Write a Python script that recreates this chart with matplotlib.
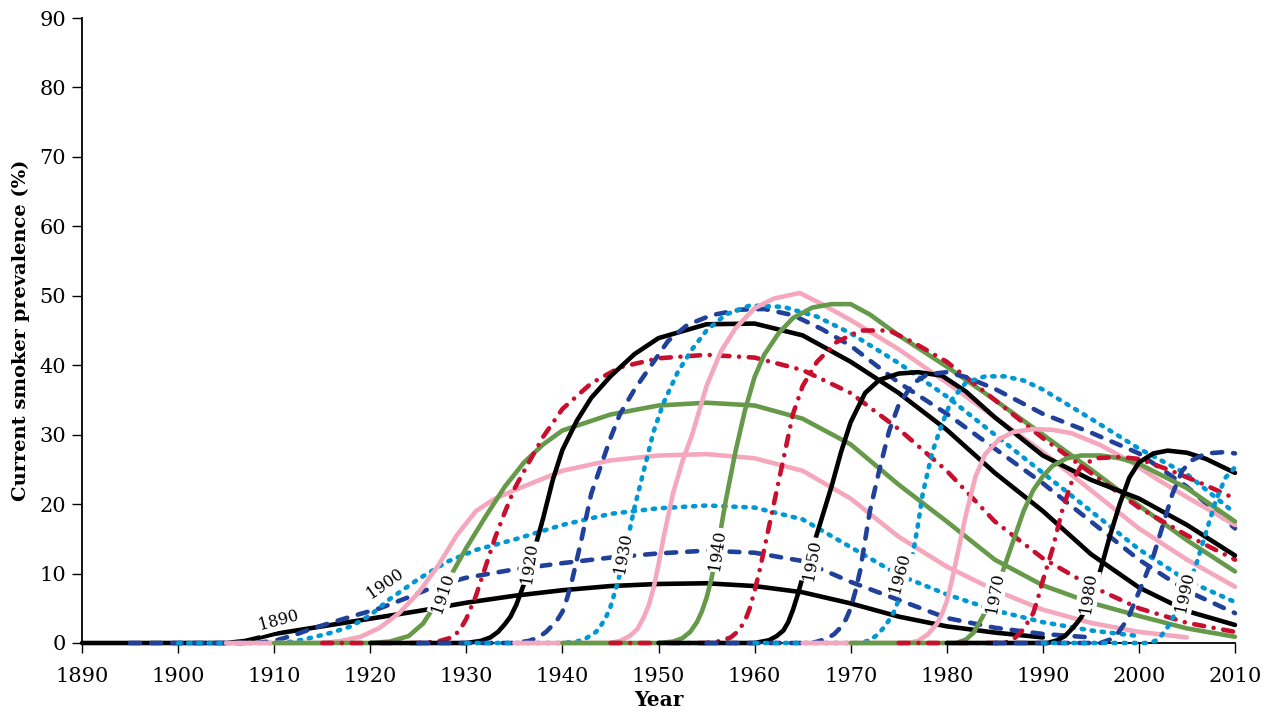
import matplotlib
matplotlib.use("Agg")
import matplotlib.pyplot as plt

# ---------------- data (birth cohorts: calendar year, current smoker prevalence %) ----------------
c1890_years = [1890, 1905, 1907, 1908.5, 1910, 1915, 1920, 1925, 1930, 1935, 1940, 1945, 1950, 1955, 1960, 1965, 1970, 1975, 1980, 1985, 1990]
c1890_vals = [0, 0, 0.3, 0.8, 1.3, 2.4, 3.5, 4.6, 5.8, 6.8, 7.6, 8.2, 8.5, 8.6, 8.2, 7.3, 5.7, 3.8, 2.4, 1.5, 0.8]

c1895_years = [1895, 1908, 1910, 1912, 1914, 1918, 1921, 1924, 1927, 1930, 1935, 1940, 1945, 1950, 1955, 1960, 1965, 1970, 1975, 1980, 1985, 1990, 1995]
c1895_vals = [0, 0, 0.3, 1.1, 2.1, 3.8, 5.0, 6.6, 8.3, 9.4, 10.6, 11.5, 12.3, 12.9, 13.3, 13.0, 11.8, 8.8, 6.2, 3.6, 2.2, 1.3, 0.8]

c1900_years = [1900, 1910, 1912, 1914, 1916, 1918, 1920, 1922, 1925, 1928, 1931, 1935, 1940, 1945, 1950, 1955, 1960, 1965, 1970, 1975, 1980, 1985, 1990, 1995, 2000]
c1900_vals = [0, 0, 0.2, 0.8, 1.5, 2.4, 4.0, 6.3, 9.2, 11.7, 13.4, 14.9, 17.0, 18.6, 19.4, 19.8, 19.5, 17.8, 13.8, 9.8, 7.0, 4.7, 3.0, 1.8, 1.0]

c1905_years = [1905, 1915, 1917, 1919, 1921, 1923, 1925, 1927, 1929, 1931, 1933, 1935, 1940, 1945, 1950, 1955, 1960, 1965, 1970, 1975, 1980, 1985, 1990, 1995, 2000, 2005]
c1905_vals = [0, 0, 0.3, 0.9, 2.2, 4.3, 7.2, 11.0, 15.5, 19.0, 20.8, 22.0, 24.8, 26.3, 27.0, 27.2, 26.6, 24.8, 20.8, 15.3, 11.0, 7.6, 4.8, 2.9, 1.6, 0.8]

c1910_years = [1910, 1920, 1922, 1924, 1925.5, 1927, 1928.5, 1930, 1932, 1934, 1936, 1938, 1940, 1945, 1950, 1955, 1960, 1965, 1970, 1975, 1980, 1985, 1990, 1995, 2000, 2005, 2010]
c1910_vals = [0, 0, 0.2, 1.0, 2.8, 6.0, 10.0, 13.7, 18.2, 22.5, 26.0, 28.6, 30.6, 32.9, 34.2, 34.6, 34.2, 32.3, 28.6, 22.8, 17.5, 12.0, 8.3, 5.8, 3.9, 2.1, 0.9]

c1915_years = [1915, 1925, 1927, 1928.5, 1929.3, 1930, 1931, 1932, 1933, 1934, 1935, 1936.5, 1938, 1940, 1943, 1946, 1950, 1955, 1960, 1965, 1970, 1975, 1980, 1985, 1990, 1995, 2000, 2005, 2010]
c1915_vals = [0, 0, 0.2, 0.8, 1.8, 3.5, 6.8, 11.0, 15.2, 18.8, 22.2, 26.0, 29.7, 33.7, 37.4, 39.7, 41.0, 41.5, 41.1, 39.3, 36.0, 30.8, 24.8, 17.5, 12.2, 8.2, 5.0, 2.9, 1.6]

c1920_years = [1920, 1930, 1931.5, 1932.5, 1933.3, 1934, 1934.6, 1935.2, 1936, 1937, 1938, 1939, 1940, 1941.5, 1943, 1945, 1947.5, 1950, 1955, 1960, 1965, 1970, 1975, 1980, 1985, 1990, 1995, 2000, 2005, 2010]
c1920_vals = [0, 0, 0.3, 0.8, 1.6, 2.7, 3.8, 5.5, 8.5, 13.0, 18.0, 23.5, 27.8, 32.0, 35.3, 38.4, 41.6, 43.9, 45.9, 46.0, 44.3, 40.5, 36.0, 30.7, 24.5, 19.0, 12.8, 8.0, 4.6, 2.6]

c1925_years = [1925, 1935, 1936.5, 1937.5, 1938.3, 1939, 1939.5, 1940, 1940.5, 1941, 1942, 1943, 1944, 1945, 1946, 1947.5, 1949, 1951, 1953, 1955.5, 1958.5, 1961, 1964, 1967, 1970, 1975, 1980, 1985, 1990, 1995, 2000, 2005, 2010]
c1925_vals = [0, 0, 0.3, 0.8, 1.6, 2.6, 3.4, 4.5, 6.5, 9.0, 15.0, 21.5, 25.5, 29.5, 33.0, 36.5, 39.5, 43.5, 45.8, 47.2, 48.0, 48.1, 47.2, 45.2, 42.8, 37.5, 33.0, 28.0, 23.0, 17.5, 12.0, 7.5, 4.3]

c1930_years = [1930, 1940, 1941.5, 1942.5, 1943.5, 1944, 1944.5, 1945, 1945.5, 1946, 1946.5, 1947.5, 1948.5, 1949.5, 1950.5, 1952, 1953.5, 1955, 1957, 1959.5, 1963, 1966.5, 1970, 1975, 1980, 1985, 1990, 1995, 2000, 2005, 2010]
c1930_vals = [0, 0, 0.2, 0.7, 1.6, 2.5, 3.6, 5.2, 7.5, 10.0, 13.0, 19.5, 25.0, 30.5, 34.5, 39.0, 42.3, 45.0, 47.3, 48.6, 48.4, 47.0, 44.6, 40.3, 35.5, 30.0, 24.5, 19.0, 13.5, 9.0, 5.9]

c1935_years = [1935, 1945, 1946, 1947, 1947.8, 1948.5, 1949, 1949.5, 1950, 1950.5, 1951.5, 1952.5, 1953.5, 1955, 1956.5, 1958, 1960, 1962, 1964.7, 1967, 1970, 1975, 1980, 1985, 1990, 1995, 2000, 2005, 2010]
c1935_vals = [0, 0, 0.3, 1.0, 2.0, 3.8, 5.5, 8.0, 11.3, 15.0, 21.5, 26.2, 30.0, 37.0, 42.0, 45.3, 48.2, 49.6, 50.4, 48.8, 46.5, 42.3, 37.5, 32.5, 27.5, 22.0, 16.5, 12.0, 8.1]

c1940_years = [1940, 1950, 1951.5, 1952.5, 1953.3, 1954, 1954.5, 1955, 1955.5, 1956, 1957, 1958, 1959, 1960, 1961, 1962.5, 1964, 1966, 1968, 1970, 1972, 1975, 1980, 1985, 1990, 1995, 2000, 2005, 2010]
c1940_vals = [0, 0, 0.2, 0.7, 1.6, 3.0, 4.5, 6.5, 9.2, 12.5, 20.5, 27.5, 33.5, 38.3, 41.5, 44.6, 46.8, 48.3, 48.8, 48.8, 47.3, 44.3, 39.8, 35.0, 30.0, 25.0, 19.8, 14.8, 10.3]

c1945_years = [1945, 1955, 1956.5, 1957.5, 1958.3, 1959, 1959.5, 1960, 1960.5, 1961, 1962, 1963, 1964, 1965, 1966.5, 1968.5, 1971, 1974, 1976.5, 1980, 1985, 1990, 1995, 2000, 2005, 2010]
c1945_vals = [0, 0, 0.3, 0.8, 1.7, 3.2, 5.0, 7.5, 10.3, 13.5, 20.0, 26.5, 33.0, 37.0, 40.5, 43.3, 45.0, 45.0, 43.3, 40.5, 35.0, 29.5, 24.5, 19.5, 15.5, 12.0]

c1950_years = [1950, 1960, 1961.5, 1962.3, 1963, 1963.5, 1964, 1964.5, 1965, 1966, 1967, 1968, 1969, 1970, 1971.5, 1973, 1975, 1977, 1979.5, 1982, 1985, 1990, 1995, 2000, 2005, 2010]
c1950_vals = [0, 0, 0.4, 1.0, 1.8, 3.0, 4.8, 7.0, 9.5, 13.5, 18.0, 22.5, 27.5, 31.8, 36.0, 37.9, 38.8, 39.0, 38.5, 36.2, 32.5, 27.0, 23.5, 20.8, 17.0, 12.6]

c1955_years = [1955, 1966, 1967.5, 1968.3, 1969, 1969.5, 1970, 1970.5, 1971, 1972, 1973, 1974, 1975, 1976.5, 1978, 1980, 1982, 1985, 1990, 1995, 2000, 2005, 2010]
c1955_vals = [0, 0, 0.6, 1.3, 2.3, 3.4, 5.0, 7.5, 10.5, 19.0, 25.0, 30.5, 34.3, 37.4, 38.7, 39.0, 38.3, 36.6, 33.0, 30.3, 27.3, 22.5, 16.5]

c1960_years = [1960, 1971, 1972, 1972.8, 1973.5, 1974, 1974.5, 1975, 1975.5, 1976, 1976.5, 1977, 1977.5, 1978.5, 1979.5, 1980.5, 1982, 1984, 1986, 1988, 1990, 1995, 2000, 2005, 2010]
c1960_vals = [0, 0, 0.4, 1.2, 2.3, 3.3, 4.5, 6.2, 8.5, 10.5, 13.0, 17.0, 21.5, 27.5, 31.5, 35.0, 37.5, 38.4, 38.4, 37.8, 36.5, 32.3, 28.0, 24.3, 18.7]

c1965_years = [1965, 1976, 1977, 1978, 1979, 1979.5, 1980, 1980.5, 1981, 1982, 1983, 1984, 1985.5, 1987, 1989, 1991, 1993, 1996, 1999, 2002, 2005, 2010]
c1965_vals = [0, 0, 0.3, 1.2, 2.8, 4.2, 6.0, 8.8, 12.0, 18.5, 24.0, 27.2, 29.4, 30.4, 30.8, 30.7, 30.2, 28.5, 26.2, 23.5, 21.0, 17.0]

c1970_years = [1970, 1981, 1982, 1982.8, 1983.7, 1985, 1986, 1987, 1988, 1989, 1990, 1991, 1992.5, 1994, 1996, 1998, 2000, 2005, 2010]
c1970_vals = [0, 0, 0.5, 1.5, 3.7, 7.0, 11.0, 15.0, 19.0, 22.0, 24.0, 25.5, 26.6, 27.0, 27.0, 26.6, 25.8, 22.3, 17.5]

c1975_years = [1975, 1986, 1987, 1988, 1989, 1989.5, 1990, 1991, 1992, 1993, 1994, 1995.5, 1998, 2000, 2003, 2006.5, 2010]
c1975_vals = [0, 0, 0.6, 2.0, 4.3, 6.5, 9.0, 13.5, 19.0, 23.2, 25.5, 26.6, 26.8, 26.5, 25.0, 23.0, 20.8]

c1980_years = [1980, 1990.5, 1991.5, 1992.3, 1993, 1993.5, 1994, 1995, 1996, 1997, 1998, 1999, 2000, 2001.5, 2003, 2005, 2007, 2010]
c1980_vals = [0, 0, 0.4, 1.0, 2.0, 2.8, 3.7, 6.5, 10.5, 15.5, 20.0, 23.8, 26.0, 27.3, 27.7, 27.4, 26.5, 24.5]

c1985_years = [1985, 1996, 1997, 1997.8, 1998.5, 1999, 1999.5, 2000.5, 2001.5, 2002.5, 2003.5, 2004.5, 2005.5, 2007, 2009, 2010]
c1985_vals = [0, 0, 0.5, 1.4, 2.8, 4.0, 5.7, 9.0, 12.5, 17.0, 21.5, 24.8, 26.3, 27.3, 27.5, 27.3]

c1990_years = [1990, 2001, 2001.7, 2002.3, 2003, 2004, 2005, 2006, 2007, 2008, 2009, 2010]
c1990_vals = [0, 0, 0.3, 1.0, 2.3, 4.8, 7.6, 11.5, 16.0, 20.5, 23.8, 25.3]

# cohort labels: text, year, value, rotation
label_texts = ["1890", "1900", "1910", "1920", "1930", "1940", "1950", "1960", "1970", "1980", "1990"]
label_x = [1910.5, 1921.5, 1927.6, 1936.6, 1946.3, 1956.1, 1966.0, 1975.1, 1985.0, 1994.7, 2004.8]
label_y = [3.3, 8.5, 7.2, 11.5, 13.0, 13.4, 12.0, 10.0, 7.2, 7.2, 7.3]
label_rot = [15, 35, 72, 82, 80, 82, 80, 75, 80, 82, 78]

x_ticks = list(range(1890, 2011, 10))
y_ticks = list(range(0, 91, 10))

# ---------------- styles ----------------
BLACK = "#000000"
NAVY = "#21409a"
LBLUE = "#0098d4"
PINK = "#f5a8bd"
GREEN = "#66994a"
RED = "#c8102e"
LW = 3.3
styles = [
    dict(color=BLACK, dashes=None),
    dict(color=NAVY, dashes=(2.2, 2.4)),
    dict(color=LBLUE, dashes=(0.5, 1.7)),
    dict(color=PINK, dashes=None),
    dict(color=GREEN, dashes=None),
    dict(color=RED, dashes=(2.2, 2.1, 0.01, 2.1)),
]

cohorts = [
    (c1890_years, c1890_vals), (c1895_years, c1895_vals), (c1900_years, c1900_vals),
    (c1905_years, c1905_vals), (c1910_years, c1910_vals), (c1915_years, c1915_vals),
    (c1920_years, c1920_vals), (c1925_years, c1925_vals), (c1930_years, c1930_vals),
    (c1935_years, c1935_vals), (c1940_years, c1940_vals), (c1945_years, c1945_vals),
    (c1950_years, c1950_vals), (c1955_years, c1955_vals), (c1960_years, c1960_vals),
    (c1965_years, c1965_vals), (c1970_years, c1970_vals), (c1975_years, c1975_vals),
    (c1980_years, c1980_vals), (c1985_years, c1985_vals), (c1990_years, c1990_vals),
]

plt.rcParams["font.family"] = ["DejaVu Serif"]

fig = plt.figure(figsize=(12.67, 7.15), dpi=100)
ax = fig.add_axes([82 / 1267, 1 - 643 / 715, (1235 - 82) / 1267, (643 - 18) / 715])

for i, (xs, ys) in enumerate(cohorts):
    st = styles[i % 6]
    line, = ax.plot(xs, ys, color=st["color"], lw=LW, zorder=3 + i * 0.01,
                    solid_capstyle="round", dash_capstyle="round",
                    solid_joinstyle="round", clip_on=False)
    if st["dashes"] is not None:
        line.set_dashes(st["dashes"])

for t, x, y, r in zip(label_texts, label_x, label_y, label_rot):
    ax.text(x, y, t, rotation=r, rotation_mode="anchor", ha="center", va="center",
            fontsize=11.5, zorder=10,
            bbox=dict(boxstyle="square,pad=0.12", fc="white", ec="none"))

ax.set_xlim(1890, 2010)
ax.set_ylim(0, 90)
ax.set_xticks(x_ticks)
ax.set_yticks(y_ticks)
ax.tick_params(axis="both", direction="out", length=7.5, width=1.0, labelsize=15)
ax.tick_params(axis="x", pad=10)
ax.tick_params(axis="y", pad=4)
for s in ["top", "right"]:
    ax.spines[s].set_visible(False)
for s in ["left", "bottom"]:
    ax.spines[s].set_linewidth(1.3)
    ax.spines[s].set_zorder(2)

ax.set_xlabel("Year", fontsize=14.5, fontweight="bold", labelpad=3)
ax.set_ylabel("Current smoker prevalence (%)", fontsize=14, fontweight="bold", labelpad=7)

fig.savefig("out.png", dpi=100)
